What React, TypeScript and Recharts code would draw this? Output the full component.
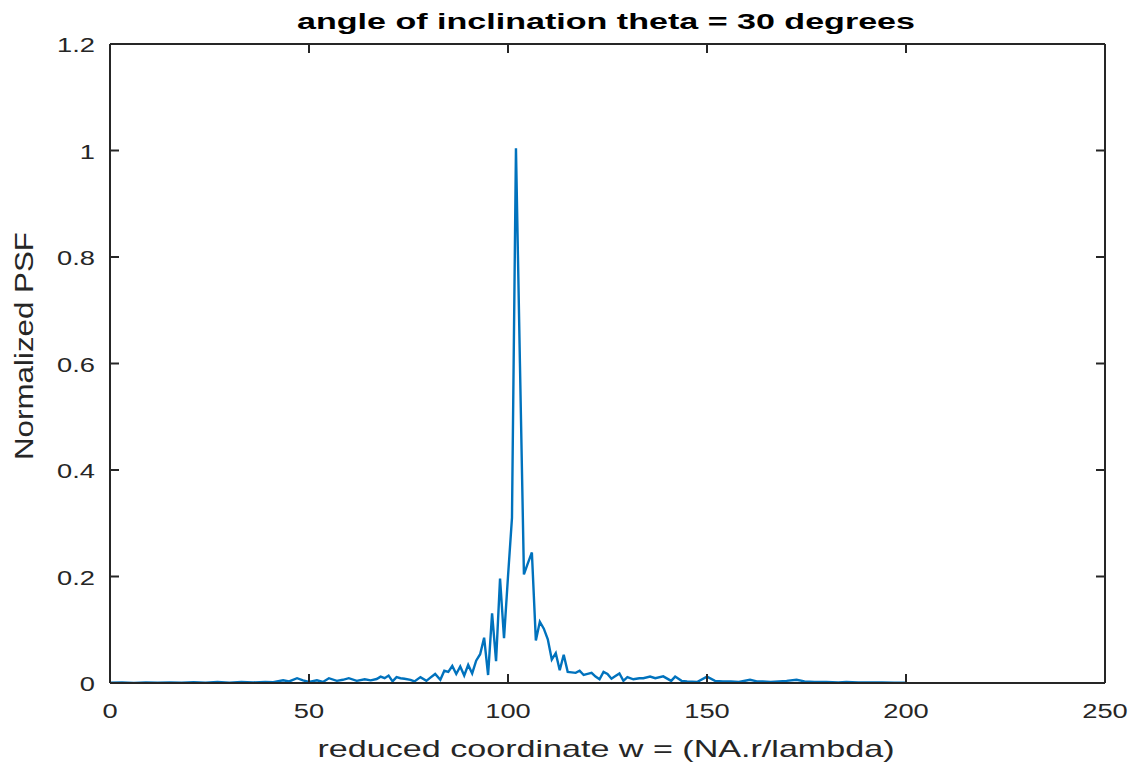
import { LineChart, Line, XAxis, YAxis } from 'recharts';

// reduced coordinate samples
const wValues = [
  0, 3, 6, 9, 12, 15, 18, 21, 24, 27, 30, 33, 36, 39, 41, 43.5, 45, 47, 48.5, 50,
  52, 53.5, 55, 57, 58.5, 60, 62, 64, 65.5, 67, 68, 69, 70, 71, 72, 73, 74, 75.5, 76.5, 78,
  79.5, 80.5, 81.7, 83, 84, 85, 86, 87, 88, 89, 90, 91, 92, 93, 94, 95, 96, 97, 98, 99,
  100, 101, 102, 103, 104, 105, 106, 107, 108, 109, 110, 111, 112, 113, 114, 115, 116, 117, 118, 119,
  120, 121, 122, 123, 124, 125, 126, 127, 128, 129, 130, 131.5, 133, 134, 135.7, 137, 139, 141, 142, 143.6,
  145, 147.5, 150, 152, 154, 156, 158, 160.8, 162.5, 164, 166, 168, 170, 172.5, 174.5, 177, 180, 183, 185, 188,
  191, 194, 197, 200,
];

const psfValues = [
  0.0005, 0.001, 0.0003, 0.0012, 0.0005, 0.001, 0.0004, 0.0015, 0.0005, 0.0018, 0.0008, 0.002, 0.001, 0.0022, 0.0015, 0.005, 0.003, 0.009, 0.005, 0.002,
  0.005, 0.002, 0.009, 0.004, 0.006, 0.009, 0.004, 0.007, 0.005, 0.0075, 0.012, 0.009, 0.014, 0.003, 0.011, 0.009, 0.008, 0.006, 0.003, 0.011,
  0.004, 0.01, 0.017, 0.006, 0.023, 0.021, 0.032, 0.017, 0.031, 0.014, 0.034, 0.018, 0.042, 0.054, 0.085, 0.015, 0.131, 0.041, 0.196, 0.084,
  0.2, 0.31, 1.004, 0.6, 0.204, 0.225, 0.245, 0.08, 0.115, 0.102, 0.082, 0.044, 0.056, 0.024, 0.053, 0.021, 0.02, 0.019, 0.023, 0.015,
  0.017, 0.019, 0.012, 0.007, 0.021, 0.017, 0.008, 0.013, 0.018, 0.004, 0.011, 0.007, 0.009, 0.009, 0.012, 0.009, 0.0125, 0.004, 0.012, 0.004,
  0.003, 0.002, 0.012, 0.004, 0.003, 0.003, 0.002, 0.006, 0.003, 0.003, 0.002, 0.003, 0.004, 0.006, 0.003, 0.002, 0.002, 0.001, 0.002, 0.001,
  0.001, 0.0008, 0.0005, 0.0005,
];

const xTicks = [0, 50, 100, 150, 200, 250];
const yTicks = [0, 0.2, 0.4, 0.6, 0.8, 1, 1.2];

const titleText = 'angle of inclination theta = 30 degrees';
const xLabelText = 'reduced coordinate w = (NA.r/lambda)';
const yLabelText = 'Normalized PSF';

const data = wValues.map((w, i) => ({ w, psf: psfValues[i] }));

const axisColor = '#262626';
const font = '"Liberation Sans", Arial, Helvetica, sans-serif';

// plot box edges (margin + axis size)
const PLOT_TOP = 44;
const PLOT_RIGHT = 1105;

const BottomTick = (props: any) => {
  const { x, y, payload } = props;
  return (
    <g>
      <line x1={x} y1={y} x2={x} y2={y - 9} stroke={axisColor} strokeWidth={2} />
      <line x1={x} y1={PLOT_TOP} x2={x} y2={PLOT_TOP + 9} stroke={axisColor} strokeWidth={2} />
      <g transform={`translate(${x},${y + 35}) scale(1.3,1)`}>
        <text x={0} y={0} textAnchor="middle" fontSize={21} fontFamily={font} fill={axisColor}>
          {payload.value}
        </text>
      </g>
    </g>
  );
};

const LeftTick = (props: any) => {
  const { x, y, payload } = props;
  return (
    <g>
      <line x1={x} y1={y} x2={x + 9} y2={y} stroke={axisColor} strokeWidth={2} />
      <line x1={PLOT_RIGHT} y1={y} x2={PLOT_RIGHT - 9} y2={y} stroke={axisColor} strokeWidth={2} />
      <g transform={`translate(${x - 15},${y + 8}) scale(1.3,1)`}>
        <text x={0} y={0} textAnchor="end" fontSize={21} fontFamily={font} fill={axisColor}>
          {payload.value}
        </text>
      </g>
    </g>
  );
};

export default function App() {
  const axisLine = { stroke: axisColor, strokeWidth: 2 };
  return (
    <div style={{ position: 'absolute', left: 0, top: 0, width: 1139, height: 763, background: '#fff' }}>
      <LineChart width={1139} height={763} data={data} margin={{ top: 40, right: 30, bottom: 20, left: 50 }}>
        <XAxis
          xAxisId="bottom"
          dataKey="w"
          type="number"
          domain={[0, 250]}
          ticks={xTicks}
          height={60}
          tickSize={0}
          tickMargin={0}
          axisLine={axisLine}
          tickLine={false}
          tick={BottomTick}
          interval={0}
        />
        <XAxis
          xAxisId="top"
          orientation="top"
          dataKey="w"
          type="number"
          domain={[0, 250]}
          ticks={xTicks}
          height={4}
          axisLine={axisLine}
          tickLine={false}
          tick={false}
        />
        <YAxis
          yAxisId="left"
          type="number"
          domain={[0, 1.2]}
          ticks={yTicks}
          width={60}
          tickSize={0}
          tickMargin={0}
          axisLine={axisLine}
          tickLine={false}
          tick={LeftTick}
          interval={0}
        />
        <YAxis
          yAxisId="right"
          orientation="right"
          type="number"
          domain={[0, 1.2]}
          ticks={yTicks}
          width={4}
          axisLine={axisLine}
          tickLine={false}
          tick={false}
        />
        <Line
          xAxisId="bottom"
          yAxisId="left"
          type="linear"
          dataKey="psf"
          stroke="#0072BD"
          strokeWidth={2.4}
          dot={false}
          isAnimationActive={false}
        />
      </LineChart>
      <svg width={1139} height={763} style={{ position: 'absolute', left: 0, top: 0, pointerEvents: 'none' }}>
        <text x={606} y={29} textAnchor="middle" fontSize={22} fontWeight="bold" fontFamily={font} fill="#000"
          textLength={618} lengthAdjust="spacingAndGlyphs">
          {titleText}
        </text>
        <text x={606} y={757} textAnchor="middle" fontSize={24} fontFamily={font} fill={axisColor}
          textLength={577} lengthAdjust="spacingAndGlyphs">
          {xLabelText}
        </text>
        <text transform="translate(33,346) rotate(-90)" x={0} y={0} textAnchor="middle" fontSize={25} fontFamily={font}
          fill={axisColor} textLength={228} lengthAdjust="spacingAndGlyphs">
          {yLabelText}
        </text>
      </svg>
    </div>
  );
}
